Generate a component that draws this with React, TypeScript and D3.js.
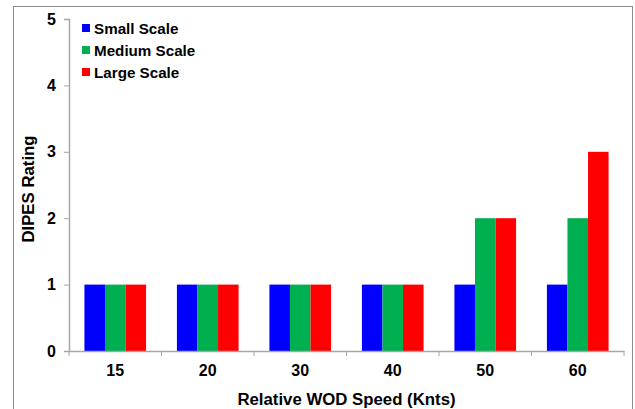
import { useRef, useEffect } from 'react';
import * as d3 from 'd3';

const speeds = ['15', '20', '30', '40', '50', '60'];
const seriesNames = ['Small Scale', 'Medium Scale', 'Large Scale'];
const seriesColors = ['#0000ff', '#00b050', '#ff0000'];
const smallScale = [1, 1, 1, 1, 1, 1];
const mediumScale = [1, 1, 1, 1, 2, 2];
const largeScale = [1, 1, 1, 1, 2, 3];
const yTicks = [0, 1, 2, 3, 4, 5];

const WIDTH = 635;
const HEIGHT = 409;

export default function App() {
  const svgRef = useRef<SVGSVGElement>(null);

  useEffect(() => {
    if (!svgRef.current) return;
    const svg = d3.select(svgRef.current);
    svg.selectAll('*').remove();

    const font = 'Arial, "Liberation Sans", sans-serif';
    const margin = { top: 19, right: 11, bottom: 58, left: 69 };
    const innerWidth = WIDTH - margin.left - margin.right;
    const innerHeight = HEIGHT - margin.top - margin.bottom;

    // Outer chart border
    svg
      .append('rect')
      .attr('x', 13.5)
      .attr('y', 6.5)
      .attr('width', 619)
      .attr('height', 420)
      .attr('fill', 'none')
      .attr('stroke', '#8c8c8c')
      .attr('stroke-width', 1);

    const g = svg
      .append('g')
      .attr('transform', `translate(${margin.left},${margin.top})`);

    const x0 = d3.scaleBand().domain(speeds).range([0, innerWidth]).paddingInner(0).paddingOuter(0);
    const bw = x0.bandwidth();
    const barWidth = bw / 4.5;
    const x1 = d3
      .scaleBand()
      .domain(seriesNames)
      .range([(bw - barWidth * 3) / 2, (bw + barWidth * 3) / 2]);
    const y = d3.scaleLinear().domain([0, 5]).range([innerHeight, 0]);

    const series = [smallScale, mediumScale, largeScale];

    speeds.forEach((s, i) => {
      const grp = g.append('g').attr('transform', `translate(${x0(s)},0)`);
      seriesNames.forEach((name, j) => {
        const v = series[j][i];
        grp
          .append('rect')
          .attr('x', x1(name)!)
          .attr('y', y(v))
          .attr('width', x1.bandwidth())
          .attr('height', y(0) - y(v))
          .attr('fill', seriesColors[j]);
      });
    });

    // Y axis
    const yAxis = d3
      .axisLeft(y)
      .tickValues(yTicks)
      .tickSize(5)
      .tickPadding(8)
      .tickFormat((d) => String(d));
    const yg = g.append('g').call(yAxis);
    yg.selectAll('text')
      .attr('fill', '#000')
      .attr('font-family', font)
      .attr('font-size', '16px')
      .attr('font-weight', 'bold');

    // X axis
    const xAxis = d3
      .axisBottom(x0)
      .tickSize(0)
      .tickPadding(14);
    const xg = g.append('g').attr('transform', `translate(0,${innerHeight})`).call(xAxis);
    xg.selectAll('text')
      .attr('fill', '#000')
      .attr('font-family', font)
      .attr('font-size', '16px')
      .attr('font-weight', 'bold');

    // Category separator ticks on the x axis
    const boundaries = d3.range(speeds.length + 1).map((k) => k * bw);
    xg.selectAll('line.sep')
      .data(boundaries)
      .enter()
      .append('line')
      .attr('class', 'sep')
      .attr('x1', (d) => d)
      .attr('x2', (d) => d)
      .attr('y1', 0)
      .attr('y2', 5)
      .attr('stroke', '#a6a6a6');

    g.selectAll('.domain').attr('stroke', '#a6a6a6').attr('stroke-width', 1.5);
    g.selectAll('.tick line').attr('stroke', '#a6a6a6');

    // Axis titles
    svg
      .append('text')
      .attr('x', margin.left + innerWidth / 2)
      .attr('y', 405)
      .attr('text-anchor', 'middle')
      .attr('font-family', font)
      .attr('font-size', '16.8px')
      .attr('font-weight', 'bold')
      .text('Relative WOD Speed (Knts)');

    svg
      .append('text')
      .attr('transform', `translate(34,${margin.top + innerHeight / 2 + 4}) rotate(-90)`)
      .attr('text-anchor', 'middle')
      .attr('font-family', font)
      .attr('font-size', '16.8px')
      .attr('font-weight', 'bold')
      .text('DIPES Rating');

    // Legend
    const legend = svg.append('g').attr('transform', 'translate(82,28)');
    seriesNames.forEach((name, j) => {
      const row = legend.append('g').attr('transform', `translate(0,${j * 22})`);
      row
        .append('rect')
        .attr('x', 0)
        .attr('y', -4)
        .attr('width', 8)
        .attr('height', 8)
        .attr('fill', seriesColors[j]);
      row
        .append('text')
        .attr('x', 12)
        .attr('y', 5.5)
        .attr('font-family', font)
        .attr('font-size', '15.2px')
        .attr('font-weight', 'bold')
        .text(name);
    });
  }, []);

  return (
    <div style={{ position: 'absolute', left: 0, top: 0, width: WIDTH, height: HEIGHT, background: '#fff' }}>
      <svg ref={svgRef} width={WIDTH} height={HEIGHT} style={{ display: 'block' }} />
    </div>
  );
}
